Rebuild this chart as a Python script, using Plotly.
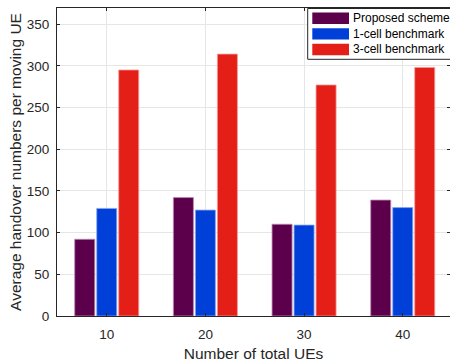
import plotly.graph_objects as go

# Data
ue_counts = [10, 20, 30, 40]
series_names = ["Proposed scheme", "1-cell benchmark", "3-cell benchmark"]
proposed = [92, 142, 110, 139]
one_cell = [129, 127, 109, 130]
three_cell = [295, 314, 277, 298]
y_ticks = [0, 50, 100, 150, 200, 250, 300, 350]

colors = ["#5c004c", "#0040d8", "#e31f18"]
edge_colors = ["#b98ab0", "#8aa6ee", "#f29a96"]
series_values = [proposed, one_cell, three_cell]

W, H = 450, 362
ML, MR, MT, MB = 57, 0, 8, 46
PW, PH = W - ML - MR, H - MT - MB

AX = "#262626"
FONT = "Liberation Sans, Arial, sans-serif"


def px_x(px):
    return (px - ML) / PW


def px_y(py):
    return (H - MB - py) / PH


fig = go.Figure()
for name, vals, c, ec in zip(series_names, series_values, colors, edge_colors):
    fig.add_trace(go.Bar(
        x=ue_counts, y=vals, name=name,
        marker=dict(color=c, line=dict(color=ec, width=0.8)),
        showlegend=False,
    ))

# Legend drawn as a boxed key in the upper right corner
shapes = [dict(type="rect", xref="paper", yref="paper",
               x0=px_x(307.7), x1=px_x(452), y0=px_y(59.3), y1=px_y(8.5),
               line=dict(color=AX, width=1), fillcolor="white", layer="above")]
annotations = []
row_centers = [18.2, 33.9, 49.5]
for name, c, yc in zip(series_names, colors, row_centers):
    shapes.append(dict(type="rect", xref="paper", yref="paper",
                       x0=px_x(312.3), x1=px_x(349), y0=px_y(yc + 5.7), y1=px_y(yc - 5.7),
                       line=dict(width=0), fillcolor=c, layer="above"))
    annotations.append(dict(xref="paper", yref="paper", x=px_x(351), y=px_y(yc),
                            text=name, showarrow=False, xanchor="left", yanchor="middle",
                            font=dict(family=FONT, size=12, color="#000000")))

fig.update_layout(
    width=W, height=H,
    margin=dict(l=ML, r=MR, t=MT, b=MB, pad=0),
    paper_bgcolor="white", plot_bgcolor="white",
    barmode="group", bargap=0.331, bargroupgap=0.09,
    font=dict(family=FONT, size=13.5, color=AX),
    shapes=shapes, annotations=annotations,
    xaxis=dict(
        range=[4.96, 44.79], tickvals=ue_counts, ticktext=[str(v) for v in ue_counts],
        showgrid=True, gridcolor="#e6e6e6", gridwidth=1,
        showline=True, linecolor=AX, linewidth=1, mirror="ticks",
        ticks="inside", ticklen=3, tickcolor=AX, zeroline=False,
        ticklabelstandoff=6,
        title=dict(text="Number of total UEs", font=dict(size=15.5, color=AX), standoff=8),
    ),
    yaxis=dict(
        range=[0, 369.3], tickvals=y_ticks,
        showgrid=True, gridcolor="#e6e6e6", gridwidth=1,
        showline=True, linecolor=AX, linewidth=1, mirror="ticks",
        ticks="inside", ticklen=3, tickcolor=AX, zeroline=False,
        ticklabelstandoff=4,
        title=dict(text="Average handover numbers per moving UE",
                   font=dict(size=15.5, color=AX), standoff=1),
    ),
)

fig.write_html("out.html")
